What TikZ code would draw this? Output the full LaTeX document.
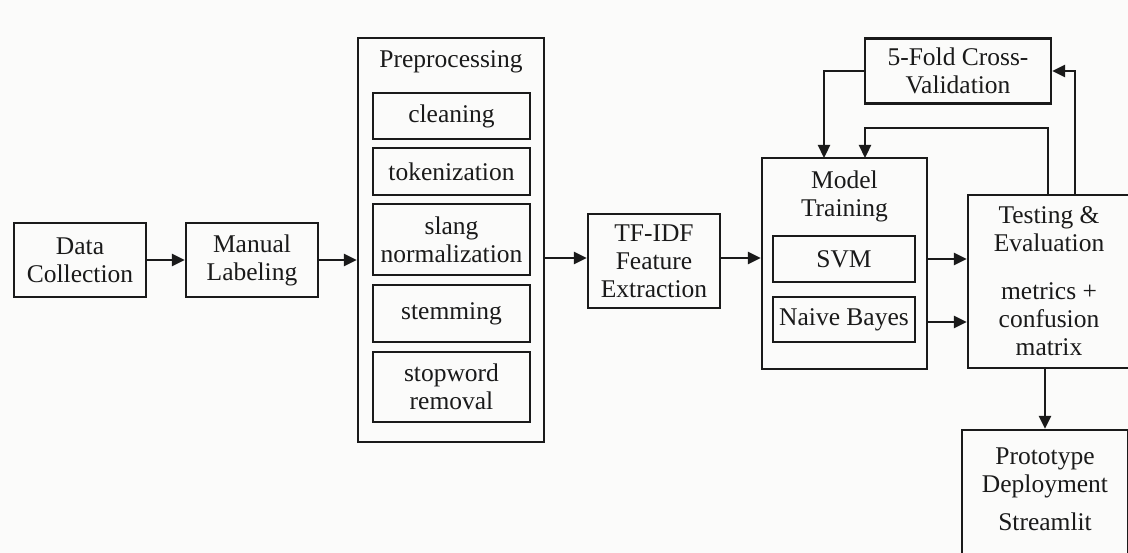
\documentclass[tikz,border=0pt]{standalone}
\usepackage{fontspec}
\setmainfont{Liberation Serif}
\usetikzlibrary{arrows.meta,calc}
\definecolor{ink}{HTML}{1A1A1A}
\definecolor{bg}{HTML}{FBFBFA}
\tikzset{
  box/.style={draw=ink, line width=2.3pt, rectangle, inner sep=0pt, align=center, text=ink,
              font=\fontsize{25.5}{28}\selectfont},
  lbl/.style={inner sep=0pt, align=center, text=ink, font=\fontsize{25.5}{28}\selectfont},
  arr/.style={draw=ink, line width=2.3pt, line join=miter, -{Triangle[length=13pt,width=12pt]}},
}
\begin{document}
\begin{tikzpicture}[x=1pt,y=-1pt]
\useasboundingbox (0,0) rectangle (1128,553);
\fill[bg] (0,0) rectangle (1128,553);
\clip (0,0) rectangle (1128,553);

% left chain
\node[box, minimum width=132pt, minimum height=74pt] (dc) at (80,260) {Data\\Collection};
\node[box, minimum width=132pt, minimum height=74pt] (ml) at (252,260) {Manual\\Labeling};

% preprocessing
\node[box, minimum width=186pt, minimum height=404pt] (pre) at (451,240) {};
\node[lbl] (pretitle) at (451,62) {Preprocessing};
\node[box, minimum width=157pt, minimum height=46pt] (clean) at (451.5,116) {cleaning};
\node[box, minimum width=157pt, minimum height=47pt] (tok) at (451.5,171.5) {tokenization};
\node[box, minimum width=157pt, minimum height=71pt] (slang) at (451.5,239.5) {slang\\normalization};
\node[box, minimum width=157pt, minimum height=57pt] (stem) at (451.5,313.5) {stemming};
\node[box, minimum width=157pt, minimum height=70pt] (stop) at (451.5,387) {stopword\\removal};

% tf-idf
\node[box, minimum width=132pt, minimum height=94pt] (tfidf) at (654,261) {TF-IDF\\Feature\\Extraction};

% model training
\node[box, minimum width=165pt, minimum height=211pt] (mt) at (844.5,263.5) {};
\node[lbl] (mttitle) at (844.5,196) {Model\\Training};
\node[box, minimum width=142pt, minimum height=46pt] (svm) at (844,259) {SVM};
\node[box, minimum width=142pt, minimum height=45pt] (nb) at (844,319.5) {Naive Bayes};

% testing
\node[box, minimum width=162pt, minimum height=173pt] (test) at (1049,281.5)
  {Testing \&\\Evaluation\\[20pt]metrics +\\confusion\\matrix};

% cross validation
\node[box, minimum width=186pt, minimum height=65pt] (cv) at (958,71) {5-Fold Cross-\\Validation};

% prototype
\node[box, minimum width=166pt, minimum height=150pt] (proto) at (1045,505) {};
\node[lbl] (prototxt) at (1045,489) {Prototype\\Deployment\\[10pt]Streamlit};

% coordinates on model training top
\coordinate (mtin1) at (824,158);
\coordinate (mtin2) at (865,158);
\coordinate (testout1) at (1048,195);
\coordinate (testout2) at (1075,195);

% connectors
\draw[arr] (dc.east) -- (ml.west);
\draw[arr] (ml.east) -- (ml.east -| pre.west);
\draw[arr] (pre.east |- 0,258) -- (tfidf.west |- 0,258);
\draw[arr] (tfidf.east |- 0,258) -- (mt.west |- 0,258);
\draw[arr] (mt.east |- 0,259) -- (test.west |- 0,259);
\draw[arr] (mt.east |- 0,322) -- (test.west |- 0,322);
\draw[arr] (test.south -| proto.north) -- (proto.north);
\draw[arr] (cv.west) -| (mtin1);
\draw[arr] (testout1) -- ++(0,-67) -| (mtin2);
\draw[arr] (testout2) |- (cv.east);
\end{tikzpicture}
\end{document}
